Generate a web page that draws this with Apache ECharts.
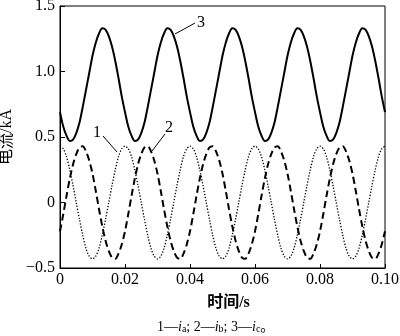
<!DOCTYPE html>
<html>
<head>
<meta charset="utf-8">
<script src="https://cdn.jsdelivr.net/npm/echarts@6/dist/echarts.min.js"></script>
<style>
  html, body { margin: 0; padding: 0; background: #fff; }
  #main { width: 400px; height: 336px; }
</style>
</head>
<body>
<div id="main"></div>
<script>
var times = [0,0.001,0.002,0.003,0.004,0.005,0.006,0.007,0.008,0.009,
  0.010,0.011,0.012,0.013,0.014,0.015,0.016,0.017,0.018,0.019,
  0.020,0.021,0.022,0.023,0.024,0.025,0.026,0.027,0.028,0.029,
  0.030,0.031,0.032,0.033,0.034,0.035,0.036,0.037,0.038,0.039,
  0.040,0.041,0.042,0.043,0.044,0.045,0.046,0.047,0.048,0.049,
  0.050,0.051,0.052,0.053,0.054,0.055,0.056,0.057,0.058,0.059,
  0.060,0.061,0.062,0.063,0.064,0.065,0.066,0.067,0.068,0.069,
  0.070,0.071,0.072,0.073,0.074,0.075,0.076,0.077,0.078,0.079,
  0.080,0.081,0.082,0.083,0.084,0.085,0.086,0.087,0.088,0.089,
  0.090,0.091,0.092,0.093,0.094,0.095,0.096,0.097,0.098,0.099,0.100];

// 1 - ia (dotted)
var ia = [0.43,0.41,0.35,0.25,0.13,0,-0.13,-0.25,-0.35,-0.41,-0.43,-0.41,-0.35,-0.25,-0.13,0,0.13,0.25,0.35,0.41,
  0.43,0.41,0.35,0.25,0.13,0,-0.13,-0.25,-0.35,-0.41,-0.43,-0.41,-0.35,-0.25,-0.13,0,0.13,0.25,0.35,0.41,
  0.43,0.41,0.35,0.25,0.13,0,-0.13,-0.25,-0.35,-0.41,-0.43,-0.41,-0.35,-0.25,-0.13,0,0.13,0.25,0.35,0.41,
  0.43,0.41,0.35,0.25,0.13,0,-0.13,-0.25,-0.35,-0.41,-0.43,-0.41,-0.35,-0.25,-0.13,0,0.13,0.25,0.35,0.41,
  0.43,0.41,0.35,0.25,0.13,0,-0.13,-0.25,-0.35,-0.41,-0.43,-0.41,-0.35,-0.25,-0.13,0,0.13,0.25,0.35,0.41,0.43];

// 2 - ib (dashed)
var ib = [-0.22,-0.09,0.05,0.18,0.29,0.37,0.42,0.43,0.39,0.32,0.22,0.09,-0.05,-0.18,-0.29,-0.37,-0.42,-0.43,-0.39,-0.32,
  -0.22,-0.09,0.05,0.18,0.29,0.37,0.42,0.43,0.39,0.32,0.22,0.09,-0.05,-0.18,-0.29,-0.37,-0.42,-0.43,-0.39,-0.32,
  -0.22,-0.09,0.05,0.18,0.29,0.37,0.42,0.43,0.39,0.32,0.22,0.09,-0.05,-0.18,-0.29,-0.37,-0.42,-0.43,-0.39,-0.32,
  -0.22,-0.09,0.05,0.18,0.29,0.37,0.42,0.43,0.39,0.32,0.22,0.09,-0.05,-0.18,-0.29,-0.37,-0.42,-0.43,-0.39,-0.32,
  -0.22,-0.09,0.05,0.18,0.29,0.37,0.42,0.43,0.39,0.32,0.22,0.09,-0.05,-0.18,-0.29,-0.37,-0.42,-0.43,-0.39,-0.32,-0.22];

// 3 - ic (solid)
var ic = [0.69,0.58,0.51,0.47,0.48,0.53,0.61,0.73,0.86,0.99,1.12,1.22,1.29,1.33,1.32,1.27,1.19,1.08,0.95,0.81,
  0.69,0.58,0.51,0.47,0.48,0.53,0.61,0.73,0.86,0.99,1.12,1.22,1.29,1.33,1.32,1.27,1.19,1.08,0.95,0.81,
  0.69,0.58,0.51,0.47,0.48,0.53,0.61,0.73,0.86,0.99,1.12,1.22,1.29,1.33,1.32,1.27,1.19,1.08,0.95,0.81,
  0.69,0.58,0.51,0.47,0.48,0.53,0.61,0.73,0.86,0.99,1.12,1.22,1.29,1.33,1.32,1.27,1.19,1.08,0.95,0.81,
  0.69,0.58,0.51,0.47,0.48,0.53,0.61,0.73,0.86,0.99,1.12,1.22,1.29,1.33,1.32,1.27,1.19,1.08,0.95,0.81,0.69];

var xTicks = [0, 0.02, 0.04, 0.06, 0.08, 0.10];
var xLabels = ['0', '0.02', '0.04', '0.06', '0.08', '0.10'];
var yTicks = [-0.5, 0, 0.5, 1.0, 1.5];
var yLabels = ['\u22120.5', '0', '0.5', '1.0', '1.5'];

function pairs(ys) {
  var out = [];
  for (var i = 0; i < times.length; i++) out.push([times[i], ys[i]]);
  return out;
}
function lookup(ticks, labels, v) {
  for (var i = 0; i < ticks.length; i++) {
    if (Math.abs(ticks[i] - v) < 1e-6) return labels[i];
  }
  return '';
}

var serif = '"Liberation Serif", "Noto Sans CJK SC", serif';
var myChart = echarts.init(document.getElementById('main'), null, {renderer: 'canvas'});

var option = {
  animation: false,
  backgroundColor: '#fff',
  grid: {
    left: 60, right: 15, top: 6, bottom: 68,
    containLabel: false, outerBoundsMode: 'none',
    show: true, borderColor: '#000', borderWidth: 1
  },
  xAxis: {
    type: 'value', min: 0, max: 0.1, interval: 0.02,
    name: '时间/s', nameLocation: 'middle', nameGap: 27,
    nameTextStyle: { fontFamily: serif, fontSize: 16, fontWeight: 'bold', color: '#000', padding: [0, 0, 0, 12] },
    axisLine: { onZero: false, lineStyle: { color: '#000', width: 1 } },
    axisTick: { inside: true, length: 4, lineStyle: { color: '#000' } },
    axisLabel: { fontFamily: serif, fontSize: 16, color: '#000', margin: 4,
      formatter: function (v) { return lookup(xTicks, xLabels, v); } },
    splitLine: { show: false }
  },
  yAxis: {
    type: 'value', min: -0.5, max: 1.5, interval: 0.5,
    name: '电流/kA', nameLocation: 'middle', nameGap: 43,
    nameTextStyle: { fontFamily: serif, fontSize: 16, color: '#000' },
    axisLine: { show: true, onZero: false, lineStyle: { color: '#000', width: 1 } },
    axisTick: { show: true, inside: true, length: 5, lineStyle: { color: '#000' } },
    axisLabel: { fontFamily: serif, fontSize: 16, color: '#000', margin: 5,
      formatter: function (v) { return lookup(yTicks, yLabels, v); } },
    splitLine: { show: false }
  },
  series: [
    {
      name: '1', type: 'line', data: pairs(ia), showSymbol: false, smooth: 0.3,
      lineStyle: { color: '#000', width: 1.3, type: [1.3, 1.7] }
    },
    {
      name: '2', type: 'line', data: pairs(ib), showSymbol: false, smooth: 0.3,
      lineStyle: { color: '#000', width: 2, type: [7, 4] }
    },
    {
      name: '3', type: 'line', data: pairs(ic), showSymbol: false, smooth: 0.3,
      lineStyle: { color: '#000', width: 2 }
    }
  ],
  graphic: [
    { type: 'line', shape: { x1: 103, y1: 136, x2: 117, y2: 152 }, style: { stroke: '#000', lineWidth: 1 } },
    { type: 'text', x: 97, y: 133, style: { text: '1', font: '16px ' + serif, fill: '#000', align: 'center', verticalAlign: 'middle' } },
    { type: 'line', shape: { x1: 165, y1: 134, x2: 152, y2: 151 }, style: { stroke: '#000', lineWidth: 1 } },
    { type: 'text', x: 169, y: 128, style: { text: '2', font: '16px ' + serif, fill: '#000', align: 'center', verticalAlign: 'middle' } },
    { type: 'line', shape: { x1: 195, y1: 23, x2: 175, y2: 34 }, style: { stroke: '#000', lineWidth: 1 } },
    { type: 'text', x: 201, y: 23, style: { text: '3', font: '16px ' + serif, fill: '#000', align: 'center', verticalAlign: 'middle' } },
    {
      type: 'text', x: 157, y: 327,
      style: {
        text: '1—{i|i}{s|a}; 2—{i|i}{s|b}; 3—{i|i}{s|c}。',
        font: '14px ' + serif, fill: '#000', verticalAlign: 'middle',
        rich: {
          i: { fontFamily: serif, fontSize: 14, fontStyle: 'italic', fill: '#000' },
          s: { fontFamily: serif, fontSize: 10, fill: '#000', padding: [5, 0, 0, 0] }
        }
      }
    }
  ]
};

myChart.setOption(option);
</script>
</body>
</html>
